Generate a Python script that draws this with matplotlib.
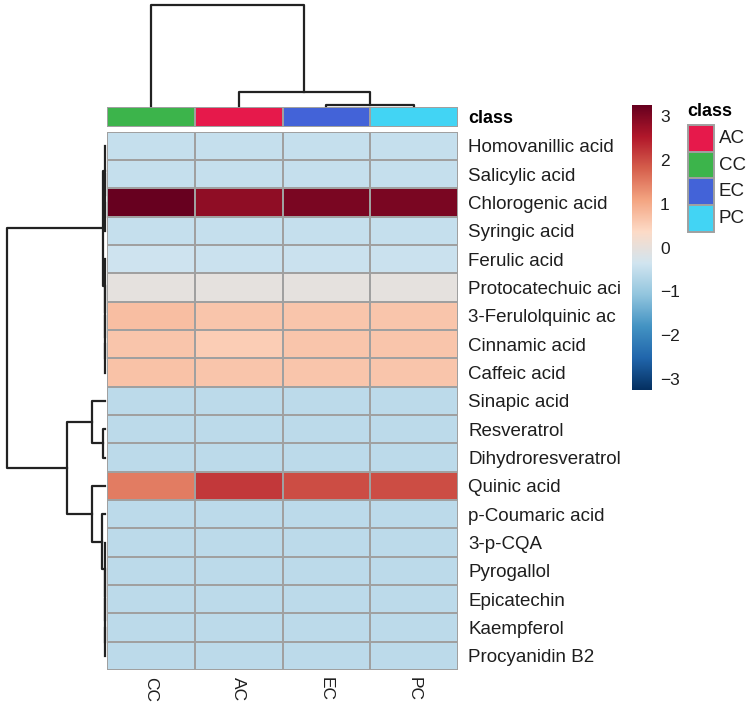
import numpy as np
import matplotlib
matplotlib.use('Agg')
import matplotlib.pyplot as plt
from matplotlib.colors import LinearSegmentedColormap, ListedColormap
from matplotlib.patches import Rectangle

plt.rcParams['font.family'] = ['Liberation Sans', 'DejaVu Sans']

# data
compounds = ['Homovanillic acid', 'Salicylic acid', 'Chlorogenic acid', 'Syringic acid',
             'Ferulic acid', 'Protocatechuic aci', '3-Ferulolquinic ac', 'Cinnamic acid',
             'Caffeic acid', 'Sinapic acid', 'Resveratrol', 'Dihydroresveratrol',
             'Quinic acid', 'p-Coumaric acid', '3-p-CQA', 'Pyrogallol', 'Epicatechin',
             'Kaempferol', 'Procyanidin B2']
samples = ['CC', 'AC', 'EC', 'PC']

cc = [-0.5, -0.5, 3.25, -0.5, -0.4, -0.05, 0.75, 0.65, 0.7, -0.6, -0.6, -0.6, 1.5,
      -0.6, -0.6, -0.6, -0.6, -0.6, -0.6]
ac = [-0.5, -0.5, 2.85, -0.5, -0.45, -0.05, 0.65, 0.55, 0.65, -0.6, -0.6, -0.6, 2.2,
      -0.6, -0.6, -0.6, -0.6, -0.6, -0.6]
ec = [-0.5, -0.5, 3.05, -0.5, -0.45, -0.05, 0.65, 0.65, 0.65, -0.6, -0.6, -0.6, 2.0,
      -0.6, -0.6, -0.6, -0.6, -0.6, -0.6]
pc = [-0.5, -0.5, 3.05, -0.5, -0.45, -0.05, 0.65, 0.65, 0.65, -0.6, -0.6, -0.6, 2.0,
      -0.6, -0.6, -0.6, -0.6, -0.6, -0.6]

# linkage: (left, right, height); ids >= n refer to earlier merges
row_merges = [(17, 18, 0.0005), (16, 19, 0.001), (15, 20, 0.0015), (14, 21, 0.003),
              (13, 22, 0.034), (12, 23, 0.136), (10, 11, 0.017), (9, 25, 0.136),
              (26, 24, 0.39), (7, 8, 0.002), (6, 28, 0.003), (5, 29, 0.004),
              (4, 30, 0.005), (2, 3, 0.002), (1, 32, 0.003), (0, 33, 0.005),
              (34, 31, 0.024), (35, 27, 1.0)]
col_merges = [(2, 3, 0.01), (1, 4, 0.143), (0, 5, 1.0)]

legend_classes = ['AC', 'CC', 'EC', 'PC']
class_colors = {'AC': '#e6194b', 'CC': '#3cb44b', 'EC': '#4363d8', 'PC': '#42d4f4'}

rdbu = ['#053061', '#2166ac', '#4393c3', '#92c5de', '#d1e5f0',
        '#fddbc7', '#f4a582', '#d6604d', '#b2182b', '#67001f']
cmap = LinearSegmentedColormap.from_list('rdbu10', rdbu, N=256)
vmin, vmax = -3.25, 3.25

W, H = 752, 711
fig = plt.figure(figsize=(W / 100, H / 100), dpi=100)


def px_axes(x0, y0, x1, y1):
    return fig.add_axes([x0 / W, 1 - y1 / H, (x1 - x0) / W, (y1 - y0) / H])


def dendro(merges, n):
    pos = [i + 0.5 for i in range(n)]
    hgt = [0.0] * n
    segs = []
    for a, b, h in merges:
        segs.append(([pos[a], pos[a], pos[b], pos[b]], [hgt[a], h, h, hgt[b]]))
        pos.append((pos[a] + pos[b]) / 2)
        hgt.append(h)
    return segs


grid = '#a0a0a0'
txt = '#1e1e1e'
hx0, hx1, hy0, hy1 = 106.7, 458.3, 131.7, 670

# heatmap
vals = np.column_stack([cc, ac, ec, pc])
ax = px_axes(hx0, hy0, hx1, hy1)
ax.pcolormesh(vals, cmap=cmap, vmin=vmin, vmax=vmax, edgecolors=grid, linewidth=1.4)
ax.set_xlim(0, 4)
ax.set_ylim(len(compounds), 0)
ax.set_yticks(np.arange(len(compounds)) + 0.5)
ax.set_yticklabels(compounds, fontsize=13.5, color=txt)
ax.yaxis.tick_right()
ax.set_xticks(np.arange(4) + 0.5)
ax.set_xticklabels(samples, rotation=270, fontsize=12.5, color=txt)
ax.tick_params(length=0, pad=7)
ax.tick_params(axis='x', pad=5)
for s in ax.spines.values():
    s.set_visible(False)

# annotation bar
ax_a = px_axes(hx0, 107.3, hx1, 126.5)
ann_cmap = ListedColormap([class_colors[s] for s in samples])
ax_a.pcolormesh(np.arange(4).reshape(1, 4), cmap=ann_cmap, vmin=-0.5, vmax=3.5,
                edgecolors=grid, linewidth=1.4)
ax_a.set_xlim(0, 4)
ax_a.set_ylim(0, 1)
ax_a.set_xticks([])
ax_a.set_yticks([0.5])
ax_a.set_yticklabels(['class'], fontsize=13, fontweight='bold', color='black')
ax_a.yaxis.tick_right()
ax_a.tick_params(length=0, pad=7)
for s in ax_a.spines.values():
    s.set_visible(False)

# column dendrogram
ax_c = px_axes(hx0, 5, hx1, 106)
for xs, ys in dendro(col_merges, 4):
    ax_c.plot(xs, ys, color='#222222', lw=1.6, solid_capstyle='projecting', clip_on=False)
ax_c.set_xlim(0, 4)
ax_c.set_ylim(0, 1)
ax_c.axis('off')

# row dendrogram
ax_r = px_axes(7, hy0, 105, hy1)
for ys, xs in dendro(row_merges, len(compounds)):
    ax_r.plot(xs, ys, color='#222222', lw=1.6, solid_capstyle='projecting', clip_on=False)
ax_r.set_xlim(1, 0)
ax_r.set_ylim(len(compounds), 0)
ax_r.axis('off')

# colorbar
ax_cb = px_axes(631.7, 105, 651.7, 390)
grad = np.linspace(vmin, vmax, 256).reshape(-1, 1)
ax_cb.imshow(grad, cmap=cmap, vmin=vmin, vmax=vmax, aspect='auto', origin='lower',
             extent=[0, 1, vmin, vmax])
ax_cb.set_xticks([])
ax_cb.yaxis.tick_right()
ax_cb.set_yticks([-3, -2, -1, 0, 1, 2, 3])
ax_cb.set_yticklabels(['\u22123', '\u22122', '\u22121', '0', '1', '2', '3'], fontsize=12.5,
                      color=txt)
ax_cb.tick_params(length=0, pad=6)
for s in ax_cb.spines.values():
    s.set_visible(False)

# class legend
fig.text(687.7 / W, 1 - 111.5 / H, 'class', fontsize=13, fontweight='bold',
         ha='left', va='center')
for i, c in enumerate(legend_classes):
    y0 = 125 + i * 26.7
    fig.patches.append(Rectangle((687.7 / W, 1 - (y0 + 26.7) / H), 26.6 / W, 26.7 / H,
                                 transform=fig.transFigure, facecolor=class_colors[c],
                                 edgecolor=grid, linewidth=1.4))
    fig.text(718.5 / W, 1 - (y0 + 13.35) / H, c, fontsize=13.5, color=txt,
             ha='left', va='center')

fig.savefig('out.png', dpi=100, facecolor='white')
